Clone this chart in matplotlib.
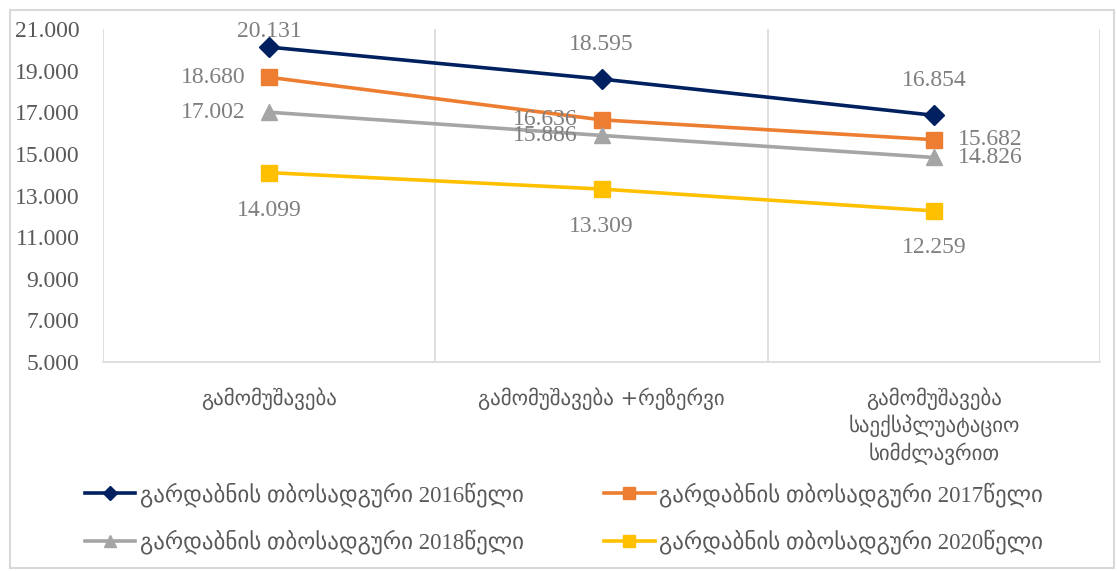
import matplotlib
matplotlib.use('Agg')
import matplotlib.pyplot as plt
from matplotlib.patches import Rectangle
from matplotlib.ticker import FuncFormatter

# Categories and series values
categories = ['გამომუშავება', 'გამომუშავება +რეზერვი',
              'გამომუშავება\nსაექსპლუატაციო\nსიმძლავრით']
series_names = ['გარდაბნის თბოსადგური 2016წელი', 'გარდაბნის თბოსადგური 2017წელი',
                'გარდაბნის თბოსადგური 2018წელი', 'გარდაბნის თბოსადგური 2020წელი']
values_2016 = [20.131, 18.595, 16.854]
values_2017 = [18.680, 16.636, 15.682]
values_2018 = [17.002, 15.886, 14.826]
values_2020 = [14.099, 13.309, 12.259]
y_ticks = [5, 7, 9, 11, 13, 15, 17, 19, 21]

# Styles per series
colors = ['#002060', '#ED7D31', '#A5A5A5', '#FFC000']
markers = ['D', 's', '^', 's']
marker_sizes = [10, 12, 12, 12]
# data label offsets (points) for every point of every series
label_offsets = [
    [(0, 11), (0, 25), (0, 25)],
    [(-17, 0), (-17, 0), (17, 0)],
    [(-17, 0), (-17, 0), (17, 0)],
    [(0, -27), (0, -27), (0, -26)],
]
label_align = [
    ['center', 'center', 'center'],
    ['right', 'right', 'left'],
    ['right', 'right', 'left'],
    ['center', 'center', 'center'],
]

serif = ['Liberation Serif', 'DejaVu Sans']
geo = ['DejaVu Sans']

fig = plt.figure(figsize=(11.17, 5.71), dpi=100)
ax = fig.add_axes([103 / 1117, 1 - 362 / 571, 997 / 1117, 333 / 571])

# outer chart border
fig.patches.append(Rectangle((10 / 1117, 3 / 571), 1104 / 1117, 558 / 571,
                             transform=fig.transFigure, fill=False,
                             edgecolor='#D9D9D9', linewidth=1.5))

x = list(range(len(categories)))
all_values = [values_2016, values_2017, values_2018, values_2020]
handles = []
for i, vals in enumerate(all_values):
    h, = ax.plot(x, vals, color=colors[i], marker=markers[i],
                 markersize=marker_sizes[i], linewidth=2.6,
                 label=series_names[i], zorder=3)
    handles.append(h)
    for j, v in enumerate(vals):
        ax.annotate(f'{v:.3f}', (x[j], v), xytext=label_offsets[i][j],
                    textcoords='offset points', ha=label_align[i][j],
                    va='center', fontsize=17, color='#7F7F7F', family=serif)

ax.set_xlim(-0.5, 2.5)
ax.set_ylim(5, 21)
ax.set_yticks(y_ticks)
ax.yaxis.set_major_formatter(FuncFormatter(lambda v, p: f'{v:.3f}'))
ax.tick_params(axis='y', length=0, pad=17, labelsize=17, labelcolor='#595959')
for lbl in ax.get_yticklabels():
    lbl.set_family(serif)

ax.set_xticks(x)
ax.set_xticklabels(categories, fontsize=15, color='#595959', family=geo,
                   linespacing=1.3, va='top')
ax.tick_params(axis='x', length=0, pad=18)

# vertical gridlines at category boundaries
for b in [-0.5, 0.5, 1.5, 2.5]:
    ax.axvline(b, color='#D9D9D9', linewidth=1.2, zorder=1)
for side in ['top', 'right', 'left']:
    ax.spines[side].set_visible(False)
ax.spines['bottom'].set_color('#D9D9D9')
ax.spines['bottom'].set_linewidth(1.2)

order = [0, 2, 1, 3]
leg = fig.legend([handles[k] for k in order], [series_names[k] for k in order],
                 ncol=2, loc='center', bbox_to_anchor=(0.505, 1 - 518 / 571),
                 frameon=False, handlelength=2.2, handletextpad=0.2,
                 columnspacing=3.5, labelspacing=1.0, markerscale=0.7,
                 prop={'family': serif, 'size': 16.5})
for t in leg.get_texts():
    t.set_color('#595959')

fig.savefig('out.png', dpi=100)
